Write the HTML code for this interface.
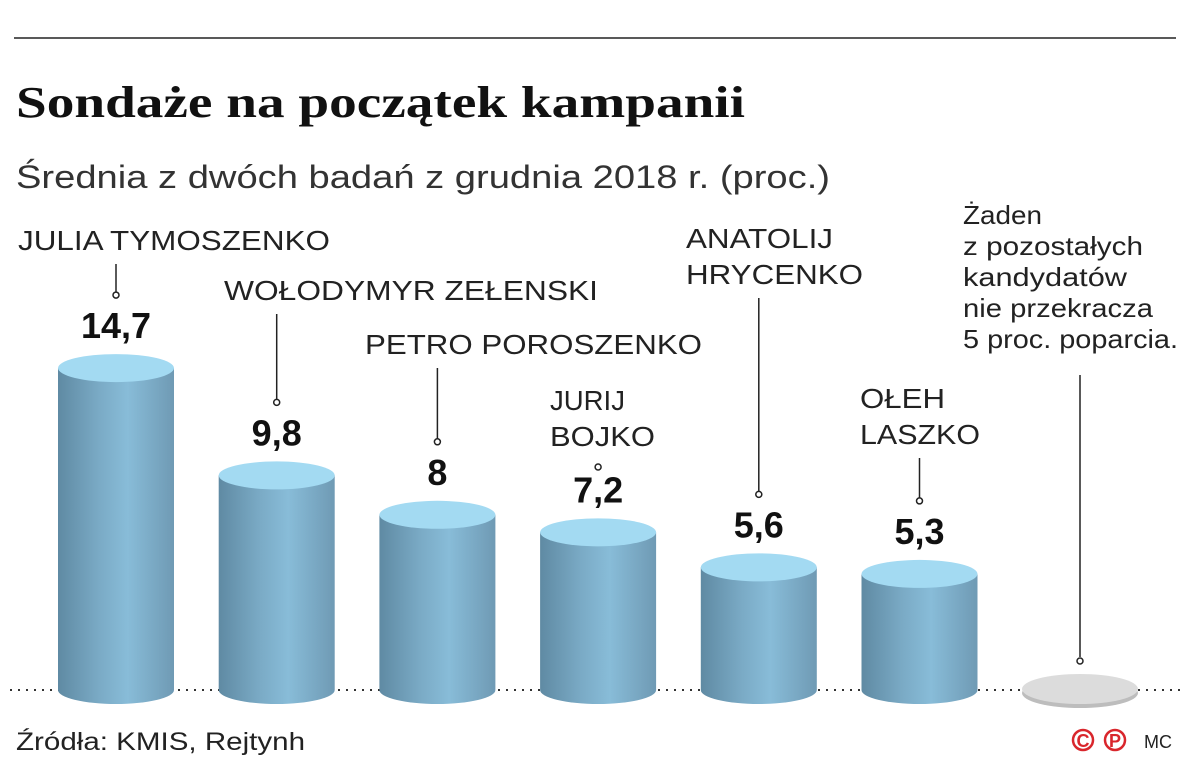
<!DOCTYPE html>
<html><head><meta charset="utf-8"><style>
body{margin:0;background:#fff;font-family:"Liberation Sans",sans-serif}
svg{display:block}
</style></head><body>
<svg width="1200" height="784" viewBox="0 0 1200 784">
<defs>
<linearGradient id="cyl" x1="0" x2="1" y1="0" y2="0">
<stop offset="0" stop-color="#5f8aa3"/><stop offset="0.35" stop-color="#7aaac5"/><stop offset="0.6" stop-color="#88bcd8"/><stop offset="1" stop-color="#6f9ab4"/>
</linearGradient>
</defs>
<line x1="14" y1="38" x2="1176" y2="38" stroke="#222" stroke-width="1.5"/>
<text x="16" y="117" font-family="Liberation Serif,serif" font-weight="bold" font-size="44" textLength="729" lengthAdjust="spacingAndGlyphs" fill="#111">Sondaże na początek kampanii</text>
<text x="16" y="188" font-size="32" textLength="814" lengthAdjust="spacingAndGlyphs" fill="#333">Średnia z dwóch badań z grudnia 2018 r. (proc.)</text>
<line x1="10" y1="690" x2="1180" y2="690" stroke="#333" stroke-width="2" stroke-dasharray="2,6"/>
<g id="bars"></g>
<text x="16" y="750" font-size="25" textLength="289" lengthAdjust="spacingAndGlyphs" fill="#222">Źródła: KMIS, Rejtynh</text>
<g>
<circle cx="1083" cy="740" r="10" fill="none" stroke="#d9262c" stroke-width="2.5"/><text x="1083" y="747" text-anchor="middle" font-size="18" font-weight="bold" fill="#d9262c">C</text>
<circle cx="1115" cy="740" r="10" fill="none" stroke="#d9262c" stroke-width="2.5"/><text x="1115" y="747" text-anchor="middle" font-size="18" font-weight="bold" fill="#d9262c">P</text>
<text x="1144" y="748" font-size="18" fill="#222">MC</text></g>
</svg>
<script>
const categories=[["JULIA TYMOSZENKO"],["WOŁODYMYR ZEŁENSKI"],["PETRO POROSZENKO"],["JURIJ","BOJKO"],["ANATOLIJ","HRYCENKO"],["OŁEH","LASZKO"]];
const values=[14.7,9.8,8,7.2,5.6,5.3];
const valueLabels=["14,7","9,8","8","7,2","5,6","5,3"];
const ns="http://www.w3.org/2000/svg";
const g=document.getElementById('bars');
const base=690,scale=21.9,rx=58,ry=14;
function xPos(i){return 116+i*160.7;}
function yPos(v){return base-v*scale;}
function mk(t,a,p){const e=document.createElementNS(ns,t);for(const k in a)e.setAttribute(k,a[k]);(p||g).appendChild(e);return e;}
const nameTop=[250,300,354,410,248,408];
const nameX=[18,224,365,550,686,860];
const nameW=[[312],[374],[337],[75,105],[147,177],[85,120]];
values.forEach((v,i)=>{
 const cx=xPos(i),ty=yPos(v);
 const grp=mk('g',{});
 
 
 mk('path',{d:`M${cx-rx},${ty} L${cx-rx},${base} A${rx},${ry} 0 0 0 ${cx+rx},${base} L${cx+rx},${ty} Z`,fill:'url(#cyl)'},grp);
 mk('ellipse',{cx:cx,cy:ty,rx:rx,ry:ry,fill:'#a3daf2'},grp);
 const vt=mk('text',{x:cx,y:ty-30,'text-anchor':'middle','font-size':36,'font-weight':'bold',fill:'#111'});
 vt.textContent=valueLabels[i];
 
 
 const lines=categories[i];
 const ny=nameTop[i];
 lines.forEach((l,j)=>{
  const t=mk('text',{x:nameX[i],y:ny+j*36,'font-size':28,fill:'#222',textLength:nameW[i][j],lengthAdjust:'spacingAndGlyphs'});
  t.textContent=l;
  
  
 });
 const ly1=ny+(lines.length-1)*36+14, ly2=ty-76;
 if(ly2>ly1+4){
  const ll=mk('line',{x1:cx,y1:ly1,x2:cx,y2:ly2,stroke:'#222','stroke-width':1.5});
  
  
 }
 mk('circle',{cx:cx,cy:Math.max(ly2,ly1+4)+3,r:3,fill:'#fff',stroke:'#222','stroke-width':1.5});
});
const ox=1080;
const og=mk('g',{});


mk('ellipse',{cx:ox,cy:693,rx:58,ry:15,fill:'#bdbdbd'},og);
mk('ellipse',{cx:ox,cy:689,rx:58,ry:15,fill:'#dcdcdc'},og);
const noteW=[79,180,164,190,215];
["Żaden","z pozostałych","kandydatów","nie przekracza","5 proc. poparcia."].forEach((l,j)=>{
 const t=mk('text',{x:963,y:224+j*31,'font-size':26,fill:'#222',textLength:noteW[j],lengthAdjust:'spacingAndGlyphs'});
 t.textContent=l;
 
 
});
mk('line',{x1:ox,y1:375,x2:ox,y2:657,stroke:'#222','stroke-width':1.5});
mk('circle',{cx:ox,cy:661,r:3,fill:'#fff',stroke:'#222','stroke-width':1.5});
</script>
</body></html>
